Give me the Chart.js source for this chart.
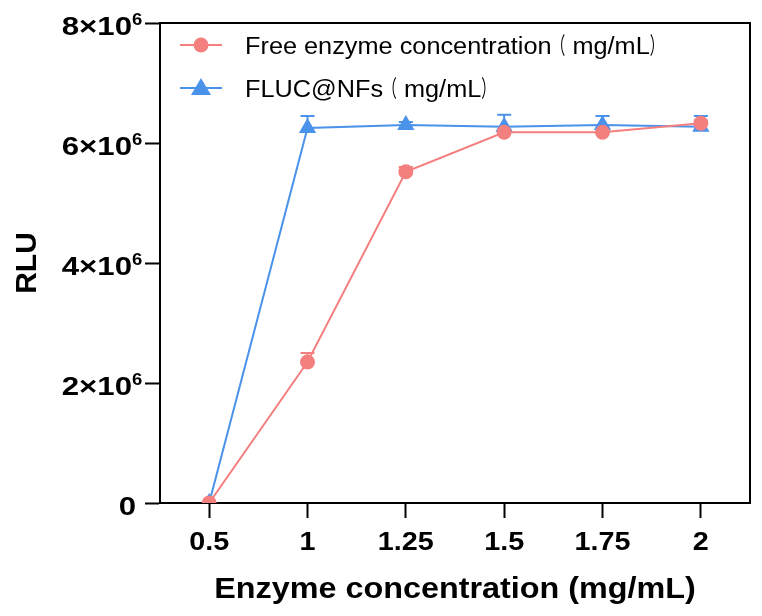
<!DOCTYPE html>
<html>
<head>
<meta charset="utf-8">
<script src="https://cdn.jsdelivr.net/npm/chart.js@4/dist/chart.umd.min.js"></script>
<style>
  html, body { margin: 0; padding: 0; background: #fff; }
  #wrap { width: 762px; height: 616px; }
</style>
</head>
<body>
<div id="wrap"><canvas id="c" width="762" height="616"></canvas></div>
<script>
// datos
const categories = ['0.5', '1', '1.25', '1.5', '1.75', '2'];
const freeValues = [0, 2350000, 5520000, 6180000, 6180000, 6330000];
const freeErrors = [0, 150000, 80000, 50000, 50000, 50000];
const flucValues = [0, 6250000, 6300000, 6270000, 6300000, 6270000];
const flucErrors = [0, 200000, 50000, 200000, 150000, 180000];
const yTicks = [0, 2000000, 4000000, 6000000, 8000000];
const legendLabels = ['Free enzyme concentration（ mg/mL）', 'FLUC@NFs（ mg/mL）'];
const xTitle = 'Enzyme concentration (mg/mL)';

const RED = '#F47F7F';
const BLUE = '#4A92EA';
const FONT = "'Liberation Sans', Arial, 'Noto Sans CJK SC', sans-serif";

// el texto original es algo más ancho que Arial: se estira en horizontal
function wideText(ctx, text, x, y, font, align, sx) {
    ctx.save();
    ctx.font = font;
    ctx.textAlign = align;
    ctx.textBaseline = 'alphabetic';
    ctx.translate(x, y);
    ctx.scale(sx, 1);
    ctx.fillText(text, 0, 0);
    const w = ctx.measureText(text).width * sx;
    ctx.restore();
    return w;
}

// la leyenda mezcla texto latino y paréntesis de ancho completo (más estrechos en el original)
function legendText(ctx, text, x, y) {
    const font = '23px ' + FONT;
    text.split(/(（|）)/).forEach(function(part) {
        if (!part) return;
        const isParen = part === '（' || part === '）';
        x += wideText(ctx, part, x, y, font, 'left', isParen ? 0.6 : 1.1);
    });
}

// barras de error (sólo hacia arriba), etiquetas, marco y leyenda
const extrasPlugin = {
    id: 'extras',
    beforeDatasetsDraw(chart) {
        const ctx = chart.ctx;
        const xs = chart.scales.x, ys = chart.scales.y;
        const sets = [[flucValues, flucErrors, BLUE], [freeValues, freeErrors, RED]];
        ctx.save();
        ctx.lineWidth = 2;
        sets.forEach(function(s) {
            ctx.strokeStyle = s[2];
            s[0].forEach(function(v, i) {
                if (!s[1][i]) return;
                const x = xs.getPixelForValue(i);
                const y0 = ys.getPixelForValue(v);
                const y1 = ys.getPixelForValue(v + s[1][i]);
                ctx.beginPath();
                ctx.moveTo(x, y0); ctx.lineTo(x, y1);
                ctx.moveTo(x - 7, y1); ctx.lineTo(x + 7, y1);
                ctx.stroke();
            });
        });
        ctx.restore();
    },
    afterDraw(chart) {
        const ctx = chart.ctx;
        const a = chart.chartArea;
        const xs = chart.scales.x, ys = chart.scales.y;
        ctx.save();
        // marco superior y derecho
        ctx.strokeStyle = '#000';
        ctx.lineWidth = 2;
        ctx.beginPath();
        ctx.moveTo(a.left, a.top);
        ctx.lineTo(a.right, a.top);
        ctx.lineTo(a.right, a.bottom);
        ctx.stroke();
        ctx.fillStyle = '#000';

        // etiquetas del eje Y con exponente en superíndice
        yTicks.forEach(function(v) {
            const y = ys.getPixelForValue(v);
            if (v === 0) {
                wideText(ctx, '0', a.left - 24, y + 12, 'bold 26px ' + FONT, 'right', 1.2);
                return;
            }
            wideText(ctx, (v / 1000000) + '×10', a.left - 28, y + 12, 'bold 26px ' + FONT, 'right', 1.2);
            wideText(ctx, '6', a.left - 28, y + 1.5, 'bold 16px ' + FONT, 'left', 1.15);
        });

        // etiquetas y título del eje X
        categories.forEach(function(c, i) {
            wideText(ctx, c, xs.getPixelForValue(i), 550, 'bold 25px ' + FONT, 'center', 1.15);
        });
        wideText(ctx, xTitle, (a.left + a.right) / 2, 598, 'bold 29px ' + FONT, 'center', 1.115);

        // leyenda dentro del área
        const styles = [[RED, 'circle'], [BLUE, 'triangle']];
        legendLabels.forEach(function(text, k) {
            const y = a.top + 22 + k * 43;
            const x0 = a.left + 20;
            const color = styles[k][0];
            ctx.strokeStyle = color;
            ctx.lineWidth = 2;
            ctx.beginPath();
            ctx.moveTo(x0, y); ctx.lineTo(x0 + 42, y);
            ctx.stroke();
            ctx.fillStyle = color;
            ctx.beginPath();
            if (styles[k][1] === 'circle') {
                ctx.arc(x0 + 21, y, 7.5, 0, Math.PI * 2);
            } else {
                ctx.moveTo(x0 + 21, y - 10);
                ctx.lineTo(x0 + 31, y + 7);
                ctx.lineTo(x0 + 11, y + 7);
                ctx.closePath();
            }
            ctx.fill();
            ctx.fillStyle = '#000';
            legendText(ctx, text, x0 + 65, y + 8.5);
        });
        ctx.restore();
    }
};

new Chart(document.getElementById('c'), {
    type: 'line',
    data: {
        labels: categories,
        datasets: [
            {
                label: legendLabels[0],
                data: freeValues,
                borderColor: RED,
                backgroundColor: RED,
                borderWidth: 2,
                pointStyle: 'circle',
                pointRadius: 7.5,
                pointBorderWidth: 0,
                tension: 0
            },
            {
                label: legendLabels[1],
                data: flucValues,
                borderColor: BLUE,
                backgroundColor: BLUE,
                borderWidth: 2,
                pointStyle: 'triangle',
                pointRadius: 10,
                pointBorderWidth: 0,
                tension: 0
            }
        ]
    },
    options: {
        responsive: false,
        animation: false,
        layout: { padding: { top: 23, right: 12, left: 0, bottom: 0 } },
        plugins: {
            legend: { display: false },
            tooltip: { enabled: false }
        },
        scales: {
            x: {
                type: 'category',
                offset: true,
                afterFit: function(scale) { scale.height = 113; },
                grid: {
                    drawOnChartArea: false,
                    tickLength: 15,
                    tickWidth: 2,
                    tickColor: '#000',
                    offset: false
                },
                border: { color: '#000', width: 2 },
                ticks: {
                    color: '#000',
                    font: { family: FONT, size: 25, weight: 'bold' },
                    callback: function() { return ''; }
                },
                title: { display: false }
            },
            y: {
                min: 0,
                max: 8000000,
                afterFit: function(scale) { scale.width = 160; },
                afterBuildTicks: function(scale) {
                    scale.ticks = yTicks.map(function(v) { return { value: v }; });
                },
                grid: {
                    drawOnChartArea: false,
                    tickLength: 15,
                    tickWidth: 2,
                    tickColor: '#000'
                },
                border: { color: '#000', width: 2 },
                ticks: {
                    color: '#000',
                    font: { family: FONT, size: 26, weight: 'bold' },
                    callback: function() { return ''; }
                },
                title: {
                    display: true,
                    text: 'RLU',
                    color: '#000',
                    padding: { top: 10, bottom: 10 },
                    font: { family: FONT, size: 30, weight: 'bold' }
                }
            }
        }
    },
    plugins: [extrasPlugin]
});
</script>
</body>
</html>
